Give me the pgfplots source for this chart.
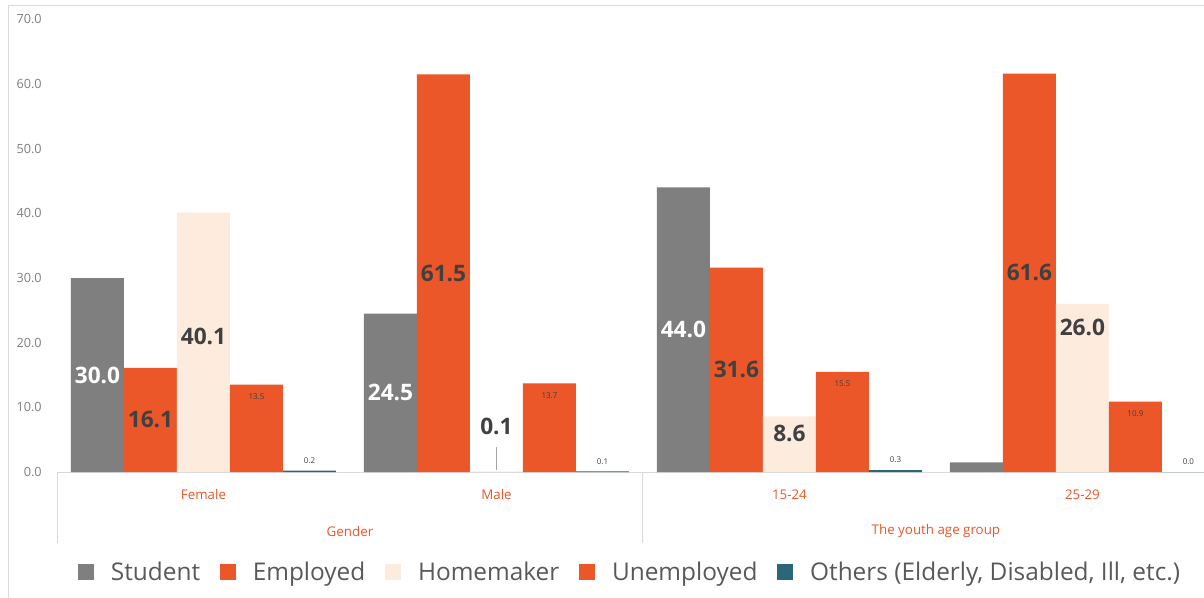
\documentclass[border=0pt]{standalone}
\usepackage{fontspec}
\setmainfont{Open Sans}
\usepackage{pgfplots}
\usepackage{pgfplotstable}
\pgfplotsset{compat=1.18}

\definecolor{stud}{HTML}{7F7F7F}
\definecolor{emp}{HTML}{EB5729}
\definecolor{home}{HTML}{FDEBDE}
\definecolor{oth}{HTML}{2A6779}
\definecolor{lbl}{HTML}{404040}
\definecolor{tickgray}{HTML}{808080}
\definecolor{legtext}{HTML}{595959}
\definecolor{axgray}{HTML}{D9D9D9}

% x: 0 Female, 1 Male, 2 15-24, 3 25-29
\pgfplotstableread{
x y lab
0 30.0 30.0
1 24.5 24.5
2 44.0 44.0
3 1.5 {}
}\student
\pgfplotstableread{
x y lab
0 16.1 16.1
1 61.5 61.5
2 31.6 31.6
3 61.6 61.6
}\employed
% ly = where the label sits (data units)
\pgfplotstableread{
x y ly lab
0 40.1 20.9 40.1
1 0.1 7.0 0.1
2 8.6 6.0 8.6
3 26.0 22.4 26.0
}\homemaker
\pgfplotstableread{
x y lab
0 13.5 13.5
1 13.7 13.7
2 15.5 15.5
3 10.9 10.9
}\unemployed
\pgfplotstableread{
x y lab
0 0.2 0.2
1 0.1 0.1
2 0.3 0.3
3 0.0 0.0
}\others

\begin{document}
\begin{tikzpicture}
\useasboundingbox (0,0) rectangle (903pt,-447.75pt);
\clip (0,0) rectangle (903pt,-447.75pt);
\fill[white] (0,0) rectangle (903pt,-447.75pt);
\draw[axgray, line width=0.75pt] (6pt,-3.75pt) rectangle (960pt,-500pt);
\begin{axis}[
    at={(42.75pt,-354pt)}, anchor=south west,
    scale only axis, width=860.25pt, height=339.5pt,
    ybar, bar width=0.1809,
    xmin=-0.5, xmax=3.415, ymin=0, ymax=70,
    axis lines*=left,
    axis line style={-},
    x axis line style={draw=axgray, line width=0.75pt},
    y axis line style={draw=none},
    clip=false,
    ytick={0,10,...,70},
    yticklabel style={font=\fontsize{9.5}{11}\selectfont, text=tickgray, xshift=-8pt},
    /pgf/number format/assume math mode=true,
    y tick label style={/pgf/number format/.cd, fixed, fixed zerofill, precision=1},
    xtick={0,1,2,3},
    xticklabels={Female,Male,15-24,25-29},
    xticklabel style={font=\fontsize{10}{12}\selectfont, text=emp, anchor=center, yshift=-16.75pt},
    extra x ticks={0.5,2.5},
    extra x tick labels={Gender,The youth age group},
    extra x tick style={xticklabel style={yshift=-27.5pt}},
    minor xtick={-0.5,1.5},
    major tick length=0pt,
    minor tick length=53.25pt,
    tick align=outside,
    minor tick style={draw=axgray, line width=0.75pt},
    xtick pos=left, ytick pos=left,
    point meta=explicit symbolic,
    nodes near coords,
    legend image code/.code={\fill[#1,draw=none] (0pt,-6pt) rectangle (12pt,6pt);},
    legend style={at={(0.5,0)}, anchor=center, yshift=-75pt, draw=none, fill=none,
        font=\fontsize{18.3}{20}\selectfont, text=legtext, legend columns=-1,
        /tikz/every odd column/.append style={column sep=10.5pt},
        /tikz/every even column/.append style={column sep=13pt}},
]
% big labels centred in the bar
\addplot[fill=stud, draw=none, bar shift=-0.3618,
    visualization depends on={rawy \as \yv},
    every node near coord/.append style={anchor=center, yshift=-\yv*2.425pt,
        font=\fontsize{17}{18}\selectfont\bfseries, text=white}]
    table[x=x, y=y, meta=lab] {\student};
\addplot[fill=emp, draw=none, bar shift=-0.1809,
    visualization depends on={rawy \as \yv},
    every node near coord/.append style={anchor=center, yshift=-\yv*2.425pt,
        font=\fontsize{17}{18}\selectfont\bfseries, text=lbl}]
    table[x=x, y=y, meta=lab] {\employed};
\addplot[fill=home, draw=none, bar shift=0, nodes near coords=]
    table[x=x, y=y, meta=lab] {\homemaker};
\addplot[fill=emp, draw=none, bar shift=0.1809,
    every node near coord/.append style={anchor=center, yshift=-9pt,
        font=\fontsize{6}{7}\selectfont, text=lbl}]
    table[x=x, y=y, meta=lab] {\unemployed};
\addplot[fill=oth, draw=none, bar shift=0.3618,
    every node near coord/.append style={anchor=center, yshift=7.5pt,
        font=\fontsize{6}{7}\selectfont, text=lbl}]
    table[x=x, y=y, meta=lab] {\others};
\legend{Student, Employed, Homemaker, Unemployed, {Others (Elderly, Disabled, Ill, etc.)}}
% homemaker labels sit at their own heights
\addplot[draw=none, fill=none, bar shift=0, forget plot,
    every node near coord/.append style={anchor=center,
        font=\fontsize{17}{18}\selectfont\bfseries, text=lbl}]
    table[x=x, y=ly, meta=lab] {\homemaker};
% leader line for the Male homemaker label
\draw[gray!70, line width=0.6pt] (axis cs:1,0.3) -- (axis cs:1,3.9);
\end{axis}
\end{tikzpicture}
\end{document}
